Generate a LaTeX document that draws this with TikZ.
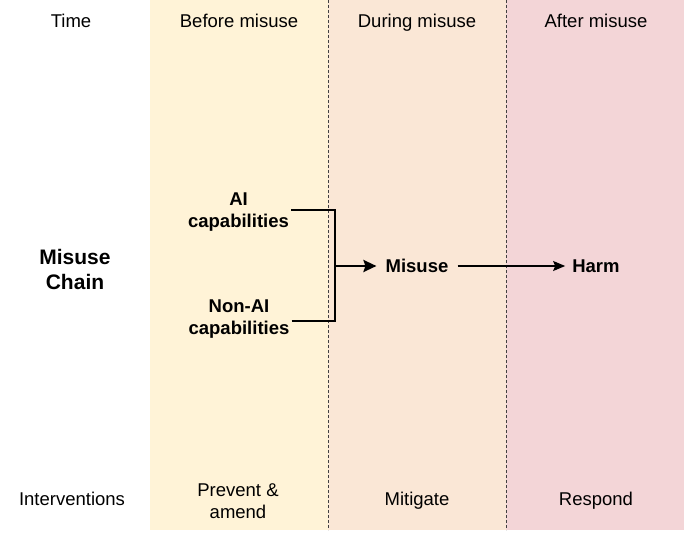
\documentclass[tikz,border=0pt]{standalone}
\usepackage{fontspec}
\setmainfont{Liberation Sans}
\usetikzlibrary{arrows.meta}
\definecolor{bandA}{RGB}{255,243,215}
\definecolor{bandB}{RGB}{250,231,214}
\definecolor{bandC}{RGB}{243,213,215}
\begin{document}
\begin{tikzpicture}[x=1pt,y=-1pt,
  lab/.style={font=\fontsize{18.5}{22}\selectfont, align=center, inner sep=0pt},
  baselab/.style={lab, anchor=base},
  boldlab/.style={font=\fontsize{18.5}{22.5}\selectfont\bfseries, align=center, inner sep=2pt},
  chainlab/.style={font=\fontsize{21}{25}\selectfont\bfseries, align=center, inner sep=0pt},
  divider/.style={draw=black!75, line width=0.8pt, dash pattern=on 3pt off 2pt},
  bracket/.style={draw=black, line width=1.6pt},
  bigarrow/.style={draw=black, line width=2.6pt, -{Stealth[length=13pt,width=12pt,inset=2pt]}},
  smallarrow/.style={draw=black, line width=1.3pt, -{Stealth[length=12pt,width=10pt,inset=2pt]}}
]
\useasboundingbox (0,0) rectangle (689,535);
\fill[bandA] (150,0) rectangle (328,530);
\fill[bandB] (328,0) rectangle (506,530);
\fill[bandC] (506,0) rectangle (684,530);
\draw[divider] (328,0) -- (328,530);
\draw[divider] (506,0) -- (506,530);

\node[baselab] (time) at (71,27.6) {Time};
\node[baselab] (before) at (239,27.6) {Before misuse};
\node[baselab] (during) at (417,27.6) {During misuse};
\node[baselab] (after) at (596,27.6) {After misuse};

\node[chainlab] (chain) at (75,269) {Misuse\\Chain};

\node[boldlab] (ai) at (238.5,212) {AI\\capabilities};
\node[boldlab] (nonai) at (239,319) {Non-AI\\capabilities};
\coordinate (join) at (335,266);
\node[boldlab, inner sep=9pt] (misuse) at (417,266) {Misuse};
\node[boldlab, inner sep=7pt] (harm) at (596,266) {Harm};

\draw[bracket] (ai.east |- 0,210) -| (join);
\draw[bracket] (nonai.east |- 0,321) -| (join);
\draw[bigarrow] (join) -- (misuse.west);
\draw[smallarrow] (misuse.east) -- (harm.west);

\node[baselab] (interv) at (72,505.6) {Interventions};
\node[lab] (prevent) at (238,501.5) {Prevent \&\\amend};
\node[baselab] (mitigate) at (417,505.6) {Mitigate};
\node[baselab] (respond) at (596,505.6) {Respond};
\end{tikzpicture}
\end{document}
